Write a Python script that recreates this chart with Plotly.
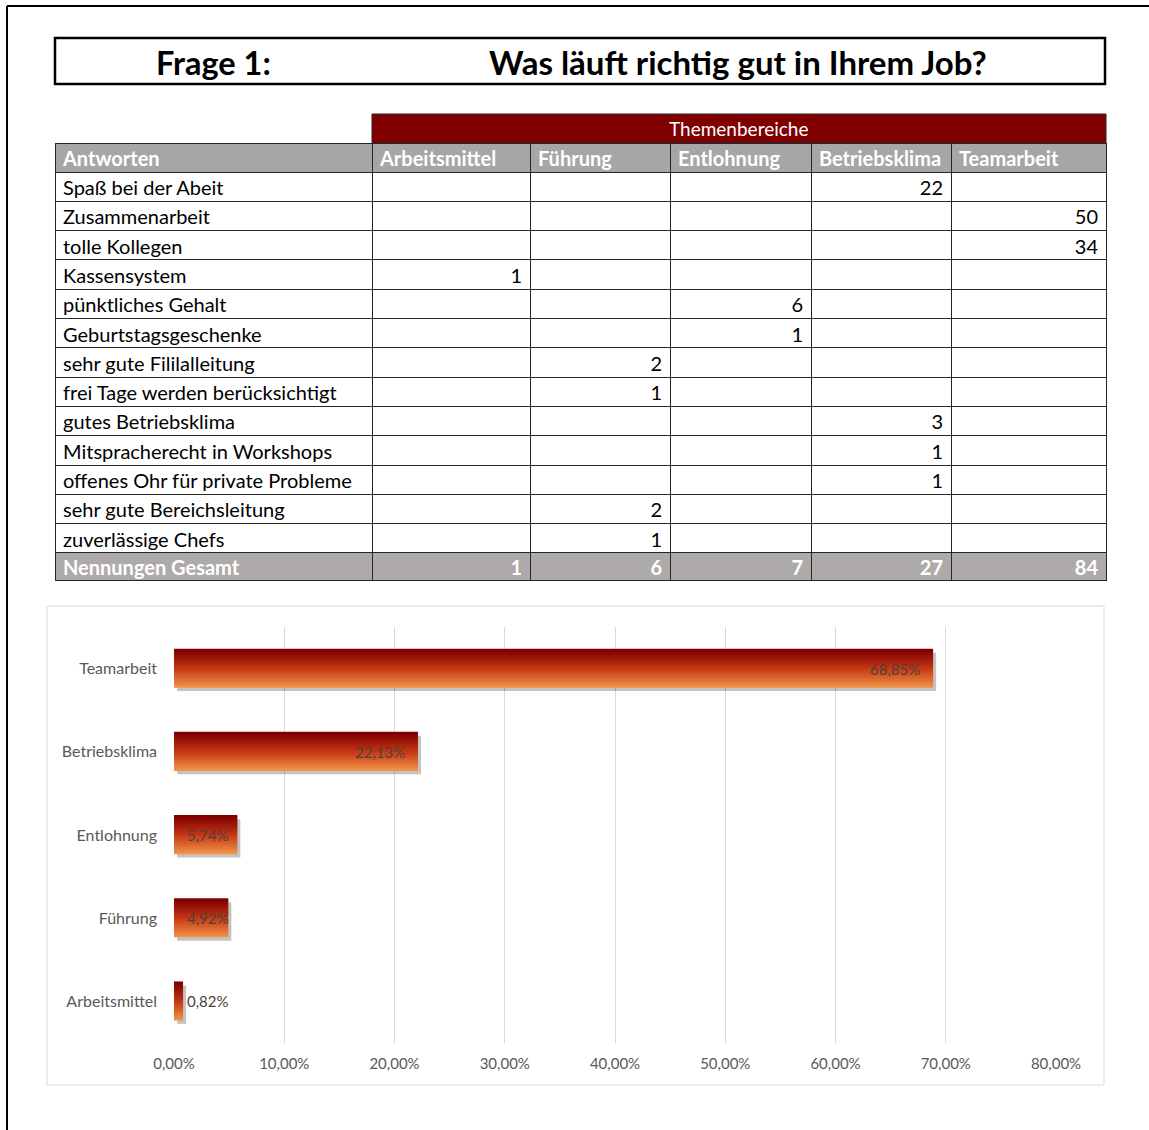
import plotly.graph_objects as go

W, H = 1149, 1130
FONT = "Lato"


def px(x):
    return x / W


def py(y):
    return 1 - y / H


# ---------------- data ----------------
title_left = "Frage 1:"
title_right = "Was läuft richtig gut in Ihrem Job?"
group_header = "Themenbereiche"
columns = ["Antworten", "Arbeitsmittel", "Führung", "Entlohnung", "Betriebsklima", "Teamarbeit"]
answers = [
    "Spaß bei der Abeit",
    "Zusammenarbeit",
    "tolle Kollegen",
    "Kassensystem",
    "pünktliches Gehalt",
    "Geburtstagsgeschenke",
    "sehr gute Fililalleitung",
    "frei Tage werden berücksichtigt",
    "gutes Betriebsklima",
    "Mitspracherecht in Workshops",
    "offenes Ohr für private Probleme",
    "sehr gute Bereichsleitung",
    "zuverlässige Chefs",
]
arbeitsmittel = [None, None, None, 1, None, None, None, None, None, None, None, None, None]
fuehrung = [None, None, None, None, None, None, 2, 1, None, None, None, 2, 1]
entlohnung = [None, None, None, None, 6, 1, None, None, None, None, None, None, None]
betriebsklima = [22, None, None, None, None, None, None, None, 3, 1, 1, None, None]
teamarbeit = [None, 50, 34, None, None, None, None, None, None, None, None, None, None]
totals_label = "Nennungen Gesamt"
totals = [1, 6, 7, 27, 84]

chart_categories = ["Arbeitsmittel", "Führung", "Entlohnung", "Betriebsklima", "Teamarbeit"]
chart_values = [0.82, 4.92, 5.74, 22.13, 68.85]
chart_labels = ["0,82%", "4,92%", "5,74%", "22,13%", "68,85%"]
label_pos = ["start", "start", "start", "end", "end"]
x_ticks = [0, 10, 20, 30, 40, 50, 60, 70, 80]
x_tick_labels = ["0,00%", "10,00%", "20,00%", "30,00%", "40,00%", "50,00%", "60,00%", "70,00%", "80,00%"]

# ---------------- figure ----------------
fig = go.Figure()

COLW = [317, 158, 140, 141, 140, 155]
LINE = dict(color="#262626", width=1)

# main table
num_cols = [arbeitsmittel, fuehrung, entlohnung, betriebsklima, teamarbeit]
cell_values = [answers]
for col in num_cols:
    cell_values.append(["" if v is None else str(v) for v in col])

fig.add_trace(go.Table(
    domain=dict(x=[px(55), px(1106)], y=[py(560), py(143)]),
    columnwidth=COLW,
    header=dict(
        values=columns,
        fill_color="#a6a6a6",
        font=dict(color="white", size=20, family=FONT, weight="bold"),
        align="left",
        height=29,
        line=LINE,
    ),
    cells=dict(
        values=cell_values,
        fill_color="white",
        font=dict(color="black", size=20, family=FONT),
        align=["left"] + ["right"] * 5,
        height=29.3,
        line=LINE,
    ),
))

# totals row (as a header-only table)
fig.add_trace(go.Table(
    domain=dict(x=[px(55), px(1106)], y=[py(610), py(552)]),
    columnwidth=COLW,
    header=dict(
        values=[totals_label] + [str(t) for t in totals],
        fill_color="#aeaaaa",
        font=dict(color="white", size=20, family=FONT, weight="bold"),
        align=["left"] + ["right"] * 5,
        height=28,
        line=LINE,
    ),
    cells=dict(values=[]),
))

# bars with vertical gradient (stacked stripes)
BW = 0.46
N = 28
top = (128, 0, 0)
mid = (196, 56, 20)
bot = (242, 146, 70)


def lerp(a, b, t):
    return tuple(round(a[i] + (b[i] - a[i]) * t) for i in range(3))


# shadow
fig.add_trace(go.Bar(
    x=chart_values, y=chart_categories, orientation="h", base=0.28,
    width=BW, offset=-BW / 2 - 0.04,
    marker=dict(color="rgba(40,40,40,0.28)", line=dict(width=0)),
    hoverinfo="skip", showlegend=False,
))

for k in range(N):
    t = k / (N - 1)  # 0 bottom, 1 top
    if t < 0.5:
        c = lerp(bot, mid, t / 0.5)
    else:
        c = lerp(mid, top, (t - 0.5) / 0.5)
    fig.add_trace(go.Bar(
        x=chart_values, y=chart_categories, orientation="h",
        width=BW / N * 1.6, offset=-BW / 2 + k * BW / N,
        marker=dict(color="rgb(%d,%d,%d)" % c, line=dict(width=0)),
        hoverinfo="skip", showlegend=False,
    ))

annotations = []
for cat, val, lab, pos in zip(chart_categories, chart_values, chart_labels, label_pos):
    if pos == "end":
        annotations.append(dict(x=val, y=cat, xref="x", yref="y", text=lab, showarrow=False,
                                xanchor="right", yanchor="middle", xshift=-11,
                                font=dict(size=15, color="#4d4040", family=FONT)))
    else:
        annotations.append(dict(x=0, y=cat, xref="x", yref="y", text=lab, showarrow=False,
                                xanchor="left", yanchor="middle", xshift=11,
                                font=dict(size=15, color="#4d4040", family=FONT)))

# titles
annotations.append(dict(x=px(213), y=py(62), xref="paper", yref="paper", text=title_left,
                        xanchor="center", yanchor="middle", showarrow=False,
                        font=dict(size=32.5, color="black", family=FONT, weight="bold")))
annotations.append(dict(x=px(738), y=py(62), xref="paper", yref="paper", text=title_right,
                        xanchor="center", yanchor="middle", showarrow=False,
                        font=dict(size=33, color="black", family=FONT, weight="bold")))
annotations.append(dict(x=px(738), y=py(129), xref="paper", yref="paper", text=group_header,
                        xanchor="center", yanchor="middle", showarrow=False,
                        font=dict(size=19, color="white", family=FONT)))

shapes = [
    # outer frame
    dict(type="line", xref="paper", yref="paper", x0=px(7), x1=px(7), y0=py(6), y1=py(1130),
         line=dict(color="black", width=2)),
    dict(type="line", xref="paper", yref="paper", x0=px(7), x1=px(1149), y0=py(6), y1=py(6),
         line=dict(color="black", width=2)),
    # title box
    dict(type="rect", xref="paper", yref="paper", x0=px(55), x1=px(1105), y0=py(84), y1=py(38),
         line=dict(color="black", width=2.5), fillcolor="rgba(0,0,0,0)"),
    # Themenbereiche bar
    dict(type="rect", xref="paper", yref="paper", x0=px(372), x1=px(1106), y0=py(143), y1=py(114),
         line=dict(color="#262626", width=1), fillcolor="#800000"),
    # chart area border
    dict(type="rect", xref="paper", yref="paper", x0=px(47), x1=px(1104), y0=py(1085), y1=py(606),
         line=dict(color="#d9d9d9", width=1), fillcolor="rgba(0,0,0,0)", layer="below"),
]

fig.update_layout(
    width=W, height=H,
    margin=dict(l=0, r=0, t=0, b=0, autoexpand=False),
    paper_bgcolor="white", plot_bgcolor="white",
    barmode="overlay",
    showlegend=False,
    font=dict(family=FONT),
    annotations=annotations,
    shapes=shapes,
    xaxis=dict(
        domain=[px(174), px(1056)], range=[0, 80],
        tickvals=x_ticks, ticktext=x_tick_labels,
        showgrid=True, gridcolor="#d9d9d9", gridwidth=1,
        zeroline=False, showline=False, ticks="",
        ticklabelstandoff=10,
        tickfont=dict(size=15, color="#595959", family=FONT),
        automargin=False, fixedrange=True,
    ),
    yaxis=dict(
        domain=[py(1043), py(627)],
        categoryorder="array", categoryarray=chart_categories,
        showgrid=False, zeroline=False, showline=False, ticks="",
        ticklabelstandoff=16,
        tickfont=dict(size=16, color="#595959", family=FONT),
        automargin=False, fixedrange=True,
    ),
)

fig.write_html(
    "out.html",
    config={"displayModeBar": False},
    post_script="document.body.style.margin='0';document.body.style.overflow='hidden';",
)
